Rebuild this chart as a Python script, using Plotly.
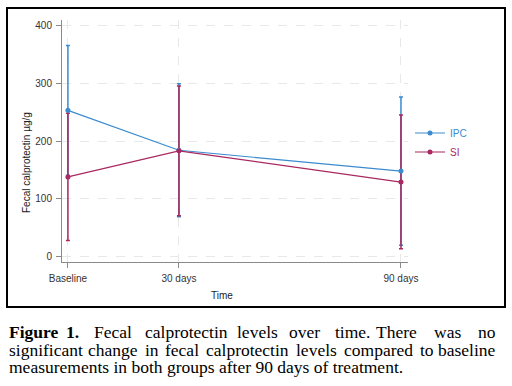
import plotly.graph_objects as go

# ---- data ----
days = [0, 30, 90]
tick_labels = ["Baseline", "30 days", "90 days"]
ipc_mean = [253, 184, 148]
ipc_upper = [365, 299, 276]
ipc_lower = [141, 69, 20]
si_mean = [138, 183, 129]
si_upper = [248, 295, 245]
si_lower = [28, 71, 14]

IPC_COL = "#3a8bd0"
SI_COL = "#a8285f"
SANS = "Liberation Sans, Arial, sans-serif"
SERIF = "Liberation Serif, Times New Roman, serif"

W, H = 512, 386
PL, PR, PT, PB = 62, 408, 20, 262   # plot area in pixels


def px(x):
    return x / W


def py(y):
    return 1 - y / H


fig = go.Figure()


def err_trace(mean, up, lo, col):
    return go.Scatter(
        x=days, y=mean, mode="markers",
        marker=dict(size=1, color="rgba(0,0,0,0)"),
        error_y=dict(type="data", symmetric=False,
                     array=[u - m for u, m in zip(up, mean)],
                     arrayminus=[m - l for m, l in zip(mean, lo)],
                     color=col, thickness=1.5, width=2),
        showlegend=False, hoverinfo="skip")


fig.add_trace(err_trace(ipc_mean, ipc_upper, ipc_lower, IPC_COL))
fig.add_trace(err_trace(si_mean, si_upper, si_lower, SI_COL))

fig.add_trace(go.Scatter(x=days, y=ipc_mean, mode="lines+markers",
                         name=f"<span style='color:{IPC_COL}'>IPC</span>",
                         line=dict(color=IPC_COL, width=1.2),
                         marker=dict(color=IPC_COL, size=5)))
fig.add_trace(go.Scatter(x=days, y=si_mean, mode="lines+markers",
                         name=f"<span style='color:{SI_COL}'>SI</span>",
                         line=dict(color=SI_COL, width=1.2),
                         marker=dict(color=SI_COL, size=5)))

axis_common = dict(
    showline=True, linecolor="#8a8a8a", linewidth=1,
    ticks="outside", ticklen=5, tickcolor="#8a8a8a",
    showgrid=True, gridcolor="#e8e8e8", griddash="dash", gridwidth=1,
    zeroline=False, automargin=False,
    tickfont=dict(family=SANS, size=10, color="#333333"),
)

fig.update_xaxes(range=[-1.6, 91.9], tickvals=days, ticktext=tick_labels,
                 domain=[px(PL), px(PR)], ticklabelstandoff=2, **axis_common)
fig.update_yaxes(range=[-9, 409], tickvals=[0, 100, 200, 300, 400],
                 domain=[py(PB), py(PT)], ticklabelstandoff=2, **axis_common)

P = dict(xref="paper", yref="paper", showarrow=False)
annotations = [
    dict(x=px(27), y=py(163), text="Fecal calprotectin µg/g", textangle=-90,
         font=dict(family=SANS, size=10, color="#222222"),
         xanchor="center", yanchor="middle", **P),
    dict(x=px(222), y=py(295), text="Time",
         font=dict(family=SANS, size=10, color="#222222"),
         xanchor="center", yanchor="middle", **P),
]

cap_font = dict(family=SERIF, size=17.5, color="black")
# justified caption: (word, x position in px, anchor)
line1 = [("<b>Figure</b>", 7, "left"), ("<b>1.</b>", 72, "center"),
         ("Fecal", 113, "center"), ("calprotectin", 186, "center"),
         ("levels", 257, "center"), ("over", 304, "center"),
         ("time.", 352, "center"), ("There", 396, "center"),
         ("was", 447, "center"), ("no", 498, "right")]
line2 = [("significant", 7, "left"), ("change", 113, "center"),
         ("in", 151.5, "center"), ("fecal", 182, "center"),
         ("calprotectin", 247.5, "center"), ("levels", 316, "center"),
         ("compared", 378, "center"), ("to", 426.5, "center"),
         ("baseline", 498, "right")]
for row_y, row in ((332, line1), (349.5, line2)):
    for txt, x, anc in row:
        annotations.append(dict(x=px(x), y=py(row_y), text=txt,
                                font=cap_font, xanchor=anc, yanchor="middle", **P))
annotations.append(dict(x=px(7), y=py(367),
                        text="measurements in both groups after 90 days of treatment.",
                        font=cap_font, xanchor="left", yanchor="middle", **P))

fig.update_layout(
    width=W, height=H, autosize=False,
    margin=dict(l=0, r=0, t=0, b=0, pad=0),
    paper_bgcolor="white", plot_bgcolor="white",
    showlegend=True,
    legend=dict(x=px(410), xanchor="left", y=py(118.5), yanchor="top",
                font=dict(family=SANS, size=10), bgcolor="rgba(0,0,0,0)",
                itemwidth=30, tracegroupgap=0),
    annotations=annotations,
    shapes=[dict(type="rect", xref="paper", yref="paper",
                 x0=px(7), x1=px(505), y0=py(307), y1=py(8),
                 line=dict(color="black", width=2), fillcolor="rgba(0,0,0,0)")],
)

fig.write_html("out.html", config={"displayModeBar": False},
               post_script="document.body.style.margin='0';document.body.style.overflow='hidden';")
